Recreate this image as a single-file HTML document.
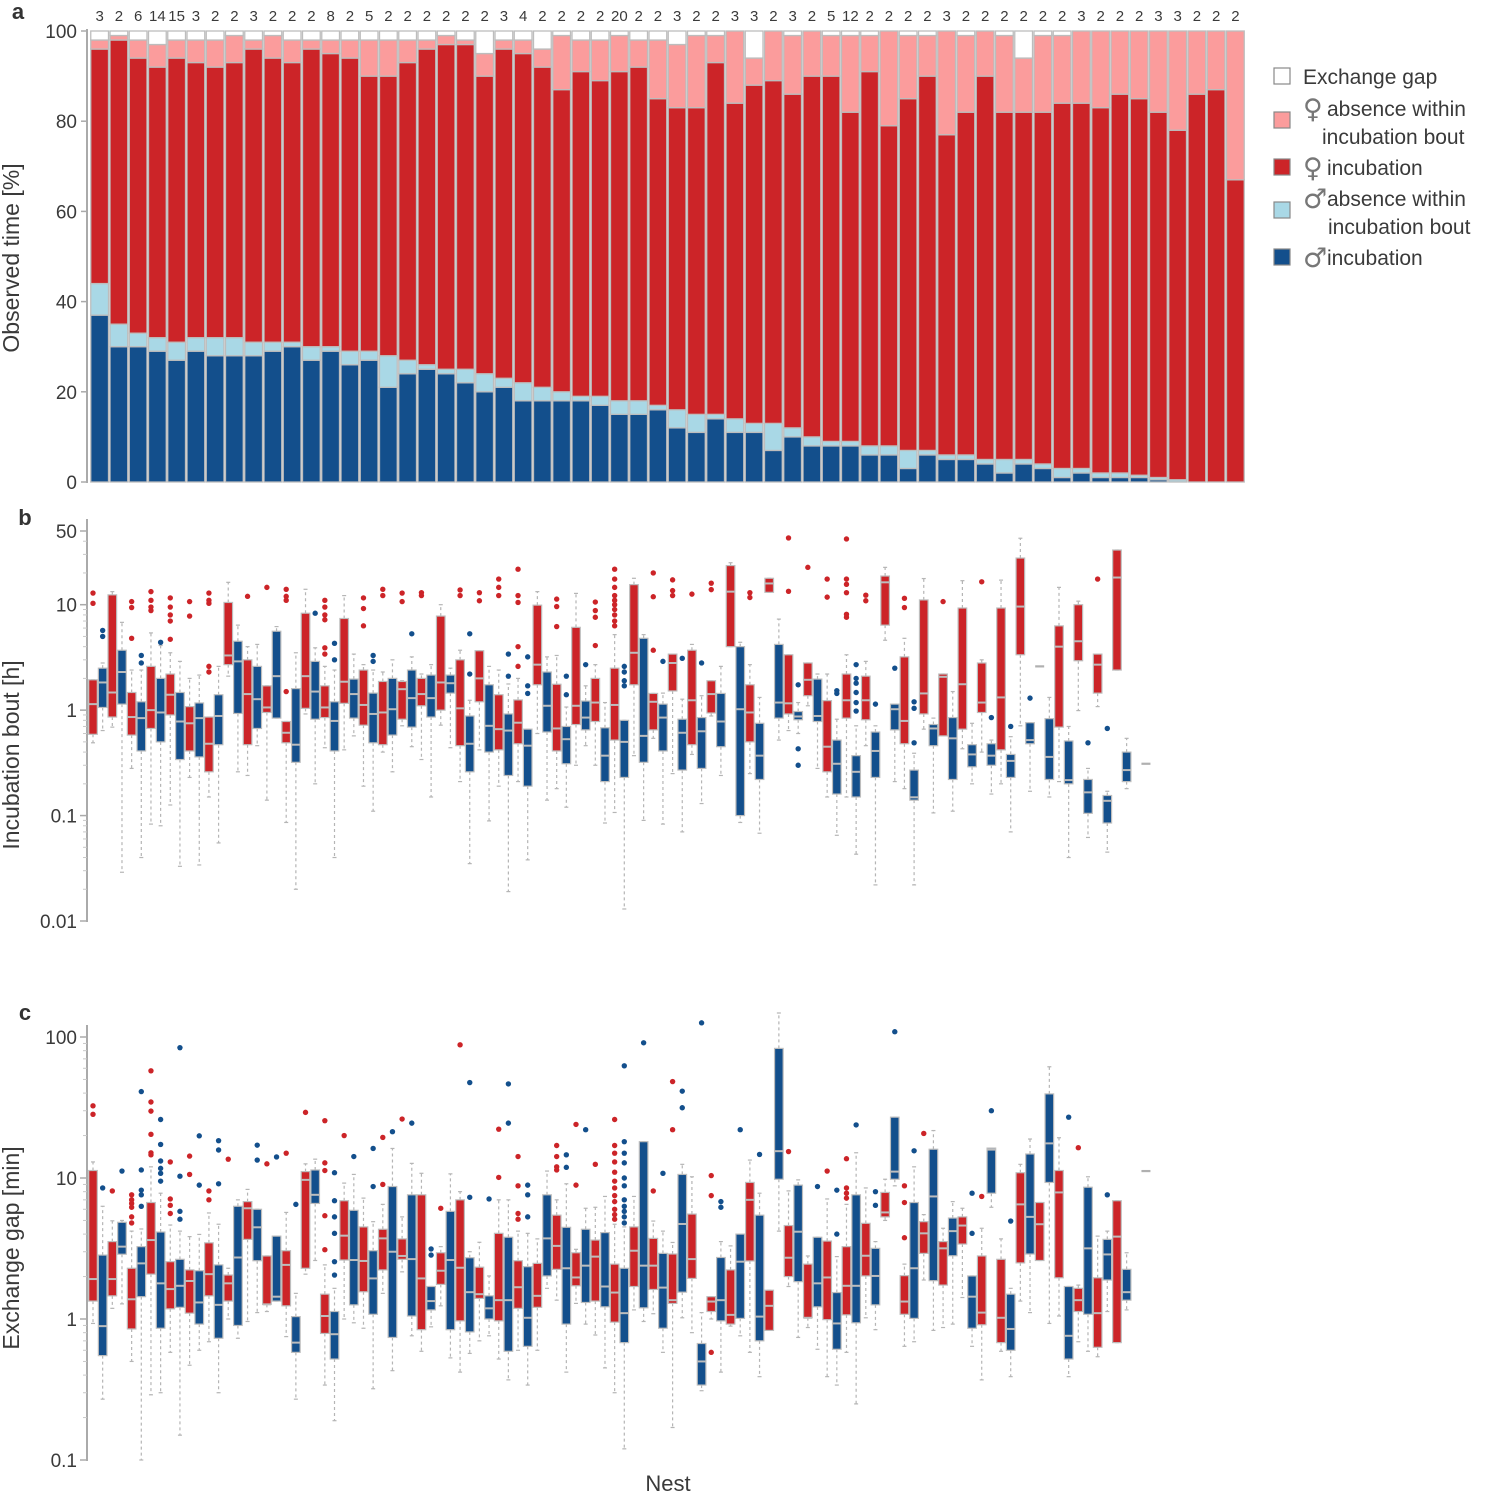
<!DOCTYPE html>
<html><head><meta charset="utf-8"><style>
html,body{margin:0;padding:0;background:#fff;}
svg{display:block;font-family:"Liberation Sans",Arial,sans-serif;}
</style></head><body>
<svg id="chart" width="1487" height="1493" viewBox="0 0 1487 1493" xmlns="http://www.w3.org/2000/svg">
<g id="pa"></g>
<g id="pb"></g>
<g id="pc"></g>
<g id="legend"></g>
</svg>
<script>
// ---------- Panel a data (cumulative % boundaries, bottom to top) ----------
const nLabels = [3,2,6,14,15,3,2,2,3,2,2,2,8,2,5,2,2,2,2,2,2,3,4,2,2,2,2,20,2,2,3,2,2,3,3,2,3,2,5,12,2,2,2,2,3,2,2,2,2,2,2,3,2,2,2,3,3,2,2,2];
const maleIncTop = [37,30,30,29,27,29,28,28,28,29,30,27,29,26,27,21,24,25,24,22,20,21,18,18,18,18,17,15,15,16,12,11,14,11,11,7,10,8,8,8,6,6,3,6,5,5,4,2,4,3,1,2,1,1,1,0.5,0,0,0,0];
const maleAbsTop = [44,35,33,32,31,32,32,32,31,31,31,30,30,29,29,28,27,26,25,25,24,23,22,21,20,19,19,18,18,17,16,15,15,14,13,13,12,10,9,9,8,8,7,7,6,6,5,5,5,4,3,3,2,2,1.5,1,0.5,0,0,0];
const femIncTop = [96,98,94,92,94,93,92,93,96,94,93,96,95,94,90,90,93,96,97,97,90,96,95,92,87,91,89,91,92,85,83,83,93,84,88,89,86,90,90,82,91,79,85,90,77,82,90,82,82,82,84,84,83,86,85,82,78,86,87,67];
const femAbsTop = [98,99,98,97,98,98,98,99,98,99,98,98,98,98,98,98,98,98,99,98,95,98,98,96,99,98,98,99,98,98,97,99,99,100,94,100,99,100,99,99,99,100,99,99,100,99,100,99,94,99,99,100,100,100,100,100,100,100,100,100];
const aTicks = [0,20,40,60,80,100];

// ---------- Panel b data: [low whisker, q1, median, q3, high whisker] in hours; slots alternate female/male ----------
const boxB = [
[0.49,0.59,1.14,1.94,1.94],[0.64,1.06,1.83,2.5,2.8],[0.69,0.86,1.47,12.4,13.3],[0.029,1.14,2.3,3.7,6.8],[0.28,0.58,0.86,1.47,2.4],
[0.04,0.41,0.84,1.2,2.4],[0.083,0.67,1,2.6,5.4],[0.08,0.5,0.95,2,4.1],[0.126,0.9,1.4,2.2,3.5],[0.033,0.34,0.78,1.47,2.9],
[0.23,0.41,0.75,1.08,2],[0.034,0.36,0.84,1.17,2.15],[0.15,0.26,0.48,0.86,0.86],[0.055,0.47,0.88,1.4,2.6],[2.1,2.7,3.3,10.5,16.3],
[0.26,0.93,2.9,4.5,6.4],[0.24,0.47,1.42,3.0,4.0],[0.46,0.67,1.27,2.6,4.2],[0.14,0.95,1.06,1.7,1.7],[0.84,0.84,2.1,5.6,6.2],
[0.086,0.49,0.61,0.78,0.78],[0.02,0.32,0.47,1.6,3.5],[0.92,1.04,2.1,8.3,14],[0.2,0.82,1.5,2.9,3.9],[0.44,0.85,1.06,1.7,2.6],
[0.04,0.41,0.79,1.2,2.4],[0.42,1.16,1.86,7.4,12.2],[0.57,0.84,1.42,1.97,3.4],[0.19,0.72,1.12,2.4,2.7],[0.11,0.49,0.92,1.45,2.4],
[0.4,0.47,0.95,1.87,2.3],[0.26,0.58,1.02,2.0,3.0],[0.71,0.82,1.58,1.87,1.9],[0.45,0.69,1.3,2.4,3.2],[0.34,1.1,1.42,2.0,2.2],
[0.15,0.86,1.3,2.15,2.7],[0.72,1,1.83,7.8,10],[0.44,1.45,1.8,2.15,2.5],[0.21,0.46,1.04,3.0,3.7],[0.035,0.26,0.48,0.88,1.24],
[0.42,1.2,2.0,3.66,3.66],[0.089,0.4,0.71,1.74,2.6],[0.19,0.42,0.66,1.4,2.4],[0.019,0.24,0.64,0.92,1.77],[0.21,0.48,0.76,1.25,2.0],
[0.038,0.19,0.46,0.66,0.66],[0.6,1.74,2.7,9.9,13.3],[0.14,0.62,1.1,2.3,3.2],[0.18,0.41,0.67,1.76,3.3],[0.12,0.31,0.53,0.7,1.07],
[0.3,0.73,1.1,6.1,12.8],[0.46,0.65,0.85,1.22,1.7],[0.3,0.78,1.18,2.0,2.7],[0.085,0.21,0.37,0.68,1.18],[0.107,0.52,1.12,2.5,5.2],
[0.013,0.23,0.5,0.8,0.8],[0.37,1.74,3.5,15.5,17.8],[0.09,0.32,0.57,4.8,5.2],[0.54,0.65,1.2,1.44,1.44],[0.083,0.41,0.85,1.14,1.45],
[0.25,1.52,2.8,3.4,3.4],[0.07,0.27,0.61,0.82,1.27],[0.38,0.47,1.24,3.7,4.2],[0.13,0.28,0.63,0.85,1.37],[0.88,0.94,1.42,1.9,1.9],
[0.24,0.45,0.78,1.44,2.6],[4,4,13.3,23.5,25],[0.086,0.1,1.02,4,4.4],[0.25,0.5,0.95,1.74,2.7],[0.068,0.22,0.37,0.75,1.32],
[13.1,13.1,15.9,17.8,17.8],[0.52,0.84,1.18,4.2,7.3],[0.64,0.92,1.16,3.35,3.35],[0.6,0.81,0.87,0.97,1.18],[1.1,1.37,1.94,2.8,2.8],
[0.28,0.78,0.88,1.97,2.2],[0.15,0.26,0.45,1.23,2.2],[0.065,0.16,0.31,0.52,0.82],[0.15,0.84,1.24,2.2,3.35],[0.043,0.15,0.26,0.37,0.71],
[0.46,0.81,1.24,2.1,2.9],[0.022,0.23,0.41,0.62,0.71],[4.6,6.4,16.3,18.7,22.6],[0.21,0.65,1.02,1.14,1.14],[0.18,0.48,0.79,3.2,4.8],
[0.022,0.14,0.149,0.27,0.39],[0.66,0.92,1.44,11.1,17.7],[0.106,0.46,0.67,0.73,0.84],[0.57,0.57,2.07,2.2,2.2],[0.11,0.22,0.54,0.85,1.5],
[0.43,0.66,1.76,9.3,16.9],[0.2,0.29,0.38,0.47,0.75],[0.4,0.95,1.18,2.8,3.0],[0.16,0.3,0.37,0.48,0.52],[0.2,0.42,1.32,9.3,17.1],
[0.07,0.23,0.33,0.38,0.56],[0.71,3.35,9.6,27.7,42.7],[0.17,0.48,0.52,0.76,0.76],[2.6,2.6,2.6,2.6,2.6],[0.15,0.22,0.36,0.83,1.32],
[0.21,0.69,4,6.3,14.6],[0.04,0.2,0.217,0.51,0.7],[0.99,2.94,4.5,10,10.8],[0.062,0.105,0.166,0.22,0.28],[1.08,1.45,2.7,3.4,3.4],
[0.045,0.085,0.138,0.155,0.17],[2.4,2.4,18.1,33,33],[0.18,0.21,0.27,0.4,0.54],null,[0.31,0.31,0.31,0.31,0.31]];
const outB = [
[12.9,10.3],[5.7,5],[],[],[10.7,9.4,4.8],[3.3,2.8],[13.3,11,9.5,8.8],[4.4],[11.6,9.5,8,7,4.7],[],
[10.7,7.8],[],[12.9,11,10.3,2.6,2.3],[],[],[],[12],[],[14.6],[],
[14,12,11,1.5],[],[],[8.3],[11,9.5,8,7.2,3.9,3.4],[4.3,3],[],[],[11.6,9.2,6.3],[3.3,2.9],
[14,12.2],[],[12.9,10.7],[5.3],[13,12.2],[],[],[],[13.8,12.2],[5.3,2.2],
[13,10.9],[],[17.5,14.6,12.2],[3.4,2.1],[21.7,12.2,10.5,4,2.6],[3.2,1.7,1.44],[],[],[11.3,9.6,6.2],[2.1,1.4],
[],[2.7],[10.6,8.8,7.6,4.1],[],[21.7,17.5,14.6,12.2,11,10,9,8,7,6.3],[2.6,2.3,1.9,1.7],[],[],[20,11.9,3.7],[2.9],
[17.2,13.6,12.2],[3.1],[12.6],[2.8],[16,13.9],[],[],[],[13,11.7],[],
[],[],[43,13.4],[1.74,0.43,0.3],[22.6],[],[17.5,11.8],[1.53,1.44],[42,17.5,15.6,13,8.1,7.6],[2.7,2.0,1.8,1.47,1.18,0.98],
[12.3,10.9],[1.14],[],[2.5],[11.5,9.4],[1.2,1.04,0.49],[],[],[10.7],[],
[],[],[16.5],[0.85],[],[0.7],[],[1.3],[],[],
[],[],[],[0.49],[17.5],[0.67],[],[],[],[]];
const bTicks = [0.01,0.1,1,10,50];
const bTickLabels = ["0.01","0.1","1","10","50"];

// ---------- Panel c data: exchange gap in minutes ----------
const boxC = [
[0.93,1.34,1.92,11.3,13],[0.27,0.55,0.89,2.84,6.3],[1.19,1.46,1.92,3.54,4.97],[1.28,2.88,3.26,4.85,5.0],[0.5,0.85,1.38,2.29,4.2],
[0.1,1.44,2.48,3.26,4.35],[0.29,2.08,3.63,6.7,12],[0.3,0.86,1.79,4.14,7.8],[0.58,1.18,1.63,2.55,4.64],[0.15,1.21,1.72,2.65,4.2],
[0.47,1.1,1.86,2.23,3.84],[0.6,0.92,1.31,2.2,3.98],[0.69,1.46,2.08,3.47,5.65],[0.3,0.73,1.26,2.42,4.7],[1.0,1.34,1.79,2.05,2.29],
[0.73,0.9,2.73,6.3,7.0],[0.96,3.67,6.1,6.8,8.3],[1.11,2.59,4.47,6.0,6.0],[1.13,1.27,1.27,2.8,2.8],[1.34,1.34,1.44,3.87,3.87],
[0.75,1.24,2.42,3.05,5.7],[0.27,0.58,0.68,1.04,1.52],[2.08,2.29,9.7,11.1,12.6],[2.6,6.6,7.6,11.4,13.6],[0.34,0.79,1.05,1.5,2.42],
[0.19,0.52,0.78,1.13,1.65],[1.0,2.62,3.9,6.9,9.2],[0.94,1.26,2.62,5.9,10.6],[0.86,1.56,2.58,4.5,7.2],[0.32,1.08,1.94,3.05,4.9],
[1.52,2.23,3.73,4.33,6.5],[0.43,0.74,3.0,8.7,16.2],[2.16,2.65,2.8,3.7,5.3],[0.76,1.05,2.66,7.6,12.7],[0.59,0.84,1.94,7.6,10.8],
[0.88,1.16,1.34,1.7,1.7],[1.24,1.76,2.2,2.95,3.26],[0.53,0.84,2.62,5.8,10.7],[0.42,0.97,2.31,7.0,8.0],[0.57,0.81,1.55,2.72,3.0],
[0.7,1.4,1.5,2.33,3.5],[0.76,1.0,1.19,1.46,2.02],[0.52,0.97,1.36,4.05,7.0],[0.37,0.59,1.36,3.8,7.0],[0.6,1.19,1.68,2.59,4.2],
[0.34,0.64,1.02,2.35,4.05],[0.6,1.21,1.46,2.48,3.7],[1.65,2.02,3.73,7.6,11.2],[1.36,2.25,3.3,5.45,7.0],[0.42,0.92,2.29,4.47,9.1],
[1.29,1.72,1.97,2.95,3.12],[0.92,1.31,2.39,4.33,6.1],[0.77,1.34,2.77,3.63,6.2],[0.45,1.22,1.7,4.1,7.4],[0.3,0.95,1.54,2.45,4.7],
[0.12,0.68,1.1,2.29,4.5],[1.16,1.7,3.05,4.5,7.4],[0.96,1.2,2.39,18.1,18.1],[1.09,1.62,2.39,3.73,4.95],[0.58,0.86,1.67,2.92,4.2],
[0.17,1.29,1.36,2.89,3.49],[1.02,1.55,4.72,10.6,12.5],[0.8,1.94,2.66,5.55,10.2],[0.31,0.34,0.5,0.67,1.11],[1.0,1.13,1.33,1.44,1.44],
[0.42,0.97,1.36,2.73,3.54],[0.89,0.92,1.07,2.23,3.3],[0.76,1.01,2.55,4.0,4.0],[0.58,2.58,7.0,9.3,13.4],[0.39,0.7,1.04,5.45,7.8],
[0.83,0.83,1.24,1.6,1.6],[4.2,9.8,15.5,83,148],[1.7,2.0,2.72,4.6,8.1],[0.74,1.84,4.16,8.9,9.7],[0.87,1.02,1.02,2.45,2.8],
[0.61,1.22,1.79,3.8,3.8],[0.39,0.99,1.97,3.57,7.1],[0.34,0.61,0.93,1.54,2.77],[0.58,1.07,1.72,3.26,6.5],[0.25,0.94,1.72,7.6,15.1],
[1.02,2.02,2.81,4.77,8.5],[0.84,1.26,2.02,3.17,3.54],[5.0,5.3,5.7,7.9,9.8],[8.8,9.8,11.1,27,27],[0.64,1.08,1.33,2.03,2.45],
[0.69,1.01,2.29,6.7,12.0],[1.89,2.92,4.05,4.9,5.5],[0.83,1.87,7.4,16,21.7],[0.87,1.74,3.17,3.54,4.4],[0.92,2.81,4.2,5.2,6.8],
[1.42,3.4,4.6,5.3,6.1],[0.64,0.86,1.44,2.02,2.02],[0.37,0.91,1.11,2.8,4.4],[6.2,7.8,15.9,16.3,16.3],[0.59,0.68,1.02,2.65,3.7],
[0.39,0.6,0.85,1.5,1.65],[1.34,2.5,6.5,10.9,12.5],[1.11,2.89,5.3,14.8,18.9],[2.6,2.6,4.7,6.7,6.7],[0.93,9.3,17.6,39.5,61.5],
[1.05,1.96,7.9,11.3,19.3],[0.39,0.52,0.76,1.7,1.7],[0.69,1.13,1.36,1.65,1.74],[0.59,1.08,3.17,8.6,10.2],[0.54,0.63,1.1,1.96,3.87],
[1.13,1.89,2.87,3.67,4.2],[0.68,0.68,3.84,6.9,6.9],[1.16,1.36,1.55,2.25,2.95],null,[11.2,11.2,11.2,11.2,11.2]];
const outC = [
[32.5,28.3],[8.5],[8.1],[11.2],[7.6,7.0,6.6,6.2,5.3,4.8],[41,11.4,8.2,7.6,6.3],[57.6,34.6,29.8,20.4,15.1,14.6],[26,17.3,13.2,11.7,10.8,9.5],[13,7.1,6.4,5.6],[84,10.3,5.8,5.1],
[14.3,10.6],[19.9,8.9],[8.1,7.0],[18.4,15.8,9.1],[13.6],[],[],[17.1,13.4],[12.6],[14.1],
[15],[6.5],[29.2],[],[25.5,12.8,11.3,5.4,3.1],[10.9,6.9,5.3,4.05,2.55,2.05],[20],[14.2],[],[16.2,8.7],
[19.4,9.0],[21.3],[26.2],[24.5],[],[3.14,2.84],[6.1],[],[88],[47.5,7.3],
[],[7.1],[22.2,10.1],[46.5,24.5],[14.2,8.8,5.6,5.1],[8.9,7.6,5.3],[],[],[17,14.2,12,11.4],[14.6,11.9],
[24,8.9],[22],[12.5],[],[26,17,15,13,11,9.5,8.5,7.5,6.8,6,5.5,5.1],[62.5,18.1,15,12.8,10,8.8,7,6.3,5.8,5.3,4.8],[],[91],[8.1],[10.8],
[48.3,22],[41.3,31.5],[],[126],[10.4,7.5,0.58],[6.8,6.2],[],[22],[],[14.7],
[],[],[15.4],[],[],[8.7],[11.2],[8.2,4.0],[13.7,8.5,7.8,7.2],[23.8],
[],[8.0,6.4],[],[109],[8.8,6.7,3.77],[15.6],[20.7],[],[],[],
[],[7.8,4.05],[7.4],[30],[],[4.95],[],[],[],[],
[],[27],[16.4],[],[],[7.6],[],[],[],[]];
const cTicks = [0.1,1,10,100];
const cTickLabels = ["0.1","1","10","100"];

// ---------- drawing ----------
const NS = "http://www.w3.org/2000/svg";
const C = {mInc:"#134f8c", mAbs:"#a9d8e6", fInc:"#cc2428", fAbs:"#fb9c9c", gap:"#ffffff", edge:"#bdbdbd", axis:"#aaaaaa", text:"#3a3a3a"};
function mk(parent, tag, attrs, text){
  const el = document.createElementNS(NS, tag);
  for (const k in attrs) el.setAttribute(k, attrs[k]);
  if (text !== undefined) el.textContent = text;
  parent.appendChild(el);
  return el;
}
const aX0 = 90, aBW = 19.25, aY0 = 482, aY100 = 31;
const ay = v => aY0 - (aY0 - aY100) * v / 100;
const ax = i => aX0 + aBW * i;
const pa = document.getElementById("pa");
let t = mk(pa, "text", {x:18, y:19, "font-size":22, "font-weight":"bold", fill:"#333", "text-anchor":"middle"}, "a");


t = mk(pa, "text", {x:0, y:0, "font-size":23, fill:C.text, "text-anchor":"middle", transform:"translate(19,258) rotate(-90)"}, "Observed time [%]");


let ln = mk(pa, "line", {x1:87, y1:aY100-2, x2:87, y2:aY0+1, stroke:C.axis, "stroke-width":2});


aTicks.forEach(v => {
  const y = ay(v);
  const tk = mk(pa, "line", {x1:81, y1:y, x2:87, y2:y, stroke:C.axis, "stroke-width":1.5});
  
  
  const tl = mk(pa, "text", {x:77, y:y+7, "font-size":19, fill:C.text, "text-anchor":"end"}, String(v));
  
  
});
for (let i = 0; i < nLabels.length; i++) {
  const x = ax(i);
  const g = mk(pa, "g", {});
  
  
  const segs = [[0, maleIncTop[i], C.mInc], [maleIncTop[i], maleAbsTop[i], C.mAbs], [maleAbsTop[i], femIncTop[i], C.fInc], [femIncTop[i], femAbsTop[i], C.fAbs], [femAbsTop[i], 100, C.gap]];
  segs.forEach(s => {
    if (s[1] - s[0] <= 0) return;
    const r = mk(g, "rect", {x:x+0.75, y:ay(s[1]), width:aBW-1.5, height:ay(s[0])-ay(s[1]), fill:s[2], stroke:C.edge, "stroke-width":1.3});
    
    
  });
  const nl = mk(pa, "text", {x:x+aBW/2, y:21, "font-size":15, fill:C.text, "text-anchor":"middle"}, String(nLabels[i]));
  
  
}

function boxPanel(gid, boxes, outs, yTop, yBot, vTop, vBot, ticks, tickLabels, letter, letterY, title, titleY){
  const g = document.getElementById(gid);
  const lt = Math.log10(vTop), lb = Math.log10(vBot);
  const yv = v => yBot - (yBot - yTop) * (Math.log10(v) - lb) / (lt - lb);
  const sx = s => 93 + 9.66 * s;
  let e = mk(g, "text", {x:25, y:letterY, "font-size":22, "font-weight":"bold", fill:"#333", "text-anchor":"middle"}, letter);
  
  
  e = mk(g, "text", {x:0, y:0, "font-size":23, fill:C.text, "text-anchor":"middle", transform:"translate(19," + titleY + ") rotate(-90)"}, title);
  
  
  const axTop = Math.min(yTop, yv(ticks[ticks.length-1])) - 12;
  e = mk(g, "line", {x1:87, y1:axTop, x2:87, y2:yBot+1, stroke:C.axis, "stroke-width":2});
  
  
  for (let d = Math.floor(lb); d < Math.ceil(lt); d++) {
    for (let m = 1; m < 10; m++) {
      const v = m * Math.pow(10, d);
      if (v < vBot || v > vTop * 1.0001) continue;
      const y = yv(v);
      const mt = mk(g, "line", {x1:m === 1 ? 80 : 83, y1:y, x2:87, y2:y, stroke:"#c8c8c8", "stroke-width":1});
      
      
    }
  }
  ticks.forEach((v, k) => {
    const y = yv(v);
    const tk = mk(g, "line", {x1:80, y1:y, x2:87, y2:y, stroke:C.axis, "stroke-width":1.5});
    
    
    const tl = mk(g, "text", {x:77, y:y+7, "font-size":19, fill:C.text, "text-anchor":"end"}, tickLabels[k]);
    
    
  });
  boxes.forEach((b, s) => {
    if (!b) return;
    const cx = sx(s);
    const col = (s % 2 === 0) ? C.fInc : C.mInc;
    const single = b[0] === b[4];
    const bg = mk(g, "g", {});
    
    
    if (single) {
      const d = mk(bg, "line", {x1:cx-4.5, y1:yv(b[2]), x2:cx+4.5, y2:yv(b[2]), stroke:"#b0b0b0", "stroke-width":2.2});
      
      
      return;
    }
    const wl = mk(bg, "line", {x1:cx, y1:yv(b[3]), x2:cx, y2:yv(b[4]), stroke:"#b5b5b5", "stroke-width":1.2, "stroke-dasharray":"3,3"});
    
    
    const wl2 = mk(bg, "line", {x1:cx, y1:yv(b[1]), x2:cx, y2:yv(b[0]), stroke:"#b5b5b5", "stroke-width":1.2, "stroke-dasharray":"3,3"});
    
    
    [b[0], b[4]].forEach(v => {
      const cp = mk(bg, "line", {x1:cx-2, y1:yv(v), x2:cx+2, y2:yv(v), stroke:"#b5b5b5", "stroke-width":1.2});
      
      
    });
    const r = mk(bg, "rect", {x:cx-4.3, y:yv(b[3]), width:8.6, height:Math.max(1, yv(b[1])-yv(b[3])), fill:col, stroke:C.edge, "stroke-width":1.2});
    
    
    const md = mk(bg, "line", {x1:cx-4.3, y1:yv(b[2]), x2:cx+4.3, y2:yv(b[2]), stroke:C.edge, "stroke-width":2});
    
    
    (outs[s] || []).forEach(v => {
      const c = mk(bg, "circle", {cx:cx, cy:yv(v), r:2.7, fill:col});
      
      
    });
  });
}
boxPanel("pb", boxB, outB, 531, 921, 50, 0.01, bTicks, bTickLabels, "b", 525, "Incubation bout [h]", 755);
boxPanel("pc", boxC, outC, 1037, 1460, 100, 0.1, cTicks, cTickLabels, "c", 1020, "Exchange gap [min]", 1248);
t = mk(document.getElementById("pc"), "text", {x:668, y:1491, "font-size":22, fill:C.text, "text-anchor":"middle"}, "Nest");



// Legend
const lg = document.getElementById("legend");
const legItems = [
  [C.gap, 76, "", ["Exchange gap"]],
  [C.fAbs, 120, "\u2640", ["absence within", "incubation bout"]],
  [C.fInc, 167, "\u2640", ["incubation"]],
  [C.mAbs, 210, "\u2642", ["absence within", "incubation bout"]],
  [C.mInc, 257, "\u2642", ["incubation"]]
];
legItems.forEach(it => {
  const g = mk(lg, "g", {});
  
  
  const sw = mk(g, "rect", {x:1274, y:it[1]-8, width:16, height:16, fill:it[0], stroke:"#888", "stroke-width":1.2});
  
  
  const lines = it[3];
  const y0 = lines.length === 1 ? it[1] + 8 : it[1] - 4;
  if (it[2]) {
    const sym = mk(g, "text", {x:1303, y:y0 + 2, "font-size":27, fill:"#777", "font-family":"DejaVu Sans, sans-serif"}, it[2]);
    
    
  }
  lines.forEach((s, k) => {
    let x;
    if (!it[2]) x = 1303;
    else if (k === 0) x = 1327;
    else x = it[2] === "\u2640" ? 1322 : 1328;
    const tx = mk(g, "text", {x:x, y:y0 + k*28, "font-size":21, fill:C.text}, s);
    
    
  });
});
</script>
</body></html>
